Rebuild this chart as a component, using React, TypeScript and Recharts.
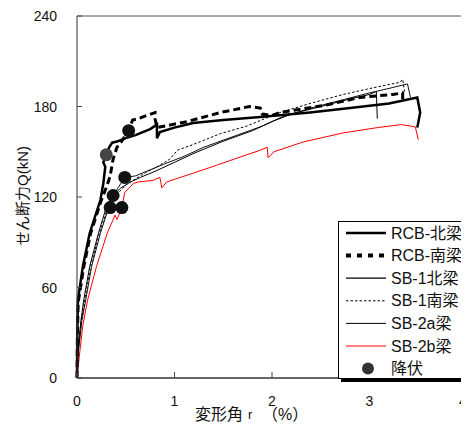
import { ComposedChart, Line, Scatter, XAxis, YAxis, Cell } from "recharts";

// 変形角 r (%) vs せん断力 Q (kN)
const RCB_N = [
  [0, 0], [0.003, 30], [0.01, 52], [0.06, 74], [0.13, 96], [0.24, 118], [0.27, 129], [0.29, 140],
  [0.27, 143], [0.3, 148], [0.33, 153], [0.36, 156], [0.42, 157], [0.5, 159], [0.6, 161], [0.75, 165],
  [0.82, 168], [0.82, 159], [0.85, 163], [1.0, 166], [1.19, 169], [1.5, 171], [1.88, 173], [2.39, 176],
  [2.8, 179], [3.2, 182], [3.49, 186], [3.52, 176], [3.49, 166],
];
const RCB_S = [
  [0, 0], [0.004, 28], [0.012, 50], [0.07, 74], [0.14, 96], [0.25, 118], [0.31, 128], [0.34, 134],
  [0.37, 145], [0.41, 153], [0.47, 158], [0.53, 164], [0.57, 171], [0.63, 172], [0.67, 173], [0.8, 176],
  [0.8, 172], [0.82, 166], [1.13, 170], [1.47, 176], [1.77, 180], [1.88, 179], [1.9, 175], [2.0, 174],
  [2.08, 176], [2.56, 181], [2.9, 186], [3.24, 188], [3.34, 189], [3.34, 184],
];
const SB1_N = [
  [0, 0], [0.01, 18], [0.04, 38], [0.07, 52], [0.13, 74], [0.22, 96], [0.29, 111], [0.33, 117],
  [0.37, 121], [0.45, 126], [0.55, 130], [0.65, 133], [0.8, 137], [1.0, 143], [1.2, 149], [1.5, 157],
  [1.8, 164], [2.0, 170], [2.2, 175], [2.5, 180], [2.8, 185], [3.0, 188], [3.07, 190], [3.08, 172],
];
const SB1_S = [
  [0, 0], [0.01, 16], [0.04, 36], [0.08, 52], [0.14, 74], [0.23, 96], [0.3, 110], [0.34, 113],
  [0.4, 121], [0.5, 128], [0.6, 132], [0.7, 136], [0.82, 140], [0.95, 145], [1.03, 151], [1.2, 155],
  [1.47, 162], [1.74, 167], [2.08, 176], [2.39, 182], [2.73, 188], [3.08, 193], [3.31, 196], [3.34, 198],
  [3.36, 190],
];
const SB2A = [
  [0, 0], [0.01, 15], [0.05, 38], [0.09, 52], [0.15, 74], [0.24, 96], [0.3, 108], [0.35, 118],
  [0.42, 126], [0.49, 133], [0.6, 134], [0.75, 138], [0.9, 142], [1.1, 147], [1.3, 153], [1.6, 160],
  [1.9, 167], [2.1, 173], [2.4, 179], [2.7, 184], [3.0, 189], [3.2, 192], [3.39, 195], [3.42, 186],
];
const SB2B = [
  [0, 0], [0.03, 18], [0.06, 35], [0.11, 52], [0.2, 74], [0.31, 96], [0.39, 108], [0.41, 105],
  [0.46, 113], [0.49, 123], [0.58, 129], [0.63, 130], [0.78, 131], [0.85, 133], [0.87, 126], [0.92, 130],
  [1.2, 136], [1.43, 141], [1.74, 148], [1.88, 151], [1.95, 153], [1.96, 146], [2.02, 150], [2.32, 156.5],
  [2.73, 162.5], [3.08, 166], [3.33, 168], [3.47, 166.5], [3.5, 158],
];
// 降伏 points
const YIELD = [
  [0.3, 148], [0.53, 164], [0.49, 133], [0.37, 121], [0.34, 113], [0.46, 113],
];

const X_TICKS = [0, 1, 2, 3, 4];
const Y_TICKS = [0, 60, 120, 180, 240];

const pts = (arr: number[][]) => arr.map(([x, y]) => ({ x, y }));

const FONT = "'Liberation Sans', 'Noto Sans CJK JP', sans-serif";

const XTick = ({ x, y, payload, index }: any) => {
  // last label sits at the right edge of the page, nudge it in so it stays readable
  const tx = index === X_TICKS.length - 1 ? x - 4 : x;
  return (
    <g>
      <line x1={x} x2={x} y1={y} y2={y - 6} stroke="#444" />
      <text x={tx} y={y + 23} textAnchor="middle" dominantBaseline="central" fontSize={14} fill="#111" fontFamily={FONT}>
        {payload.value}
      </text>
    </g>
  );
};

const YTick = ({ x, y, payload }: any) => (
  <g>
    <line x1={x} x2={x + 5} y1={y} y2={y} stroke="#444" />
    <text x={x - 20} y={y} textAnchor="end" dominantBaseline="central" fontSize={14} fill="#111" fontFamily={FONT}>
      {payload.value}
    </text>
  </g>
);

const legendItems = [
  { label: "RCB-北梁", stroke: "#000", width: 2.5, dash: undefined },
  { label: "RCB-南梁", stroke: "#000", width: 4, dash: "5 6" },
  { label: "SB-1北梁", stroke: "#000", width: 1.2, dash: undefined },
  { label: "SB-1南梁", stroke: "#000", width: 1, dash: "2.5 2" },
  { label: "SB-2a梁", stroke: "#000", width: 1, dash: undefined },
  { label: "SB-2b梁", stroke: "#ff0000", width: 1, dash: undefined },
];

export default function App() {
  return (
    <div
      style={{
        width: 469,
        height: 425,
        position: "relative",
        overflow: "hidden",
        margin: "-8px 0 0 -8px",
        background: "#fff",
        fontFamily: FONT,
      }}
    >
      <ComposedChart width={469} height={425} margin={{ top: 15, right: 0, left: 17, bottom: 7 }}>
        <XAxis
          type="number"
          dataKey="x"
          domain={[0, 4]}
          ticks={X_TICKS}
          interval={0}
          height={40}
          tickSize={0}
          tickMargin={0}
          tick={<XTick />}
          axisLine={{ stroke: "#333", strokeWidth: 1.5 }}
          tickLine={false}
        />
        <XAxis xAxisId="top" orientation="top" type="number" domain={[0, 4]} height={1} tick={false} tickLine={false} axisLine={{ stroke: "#555" }} />
        <YAxis
          type="number"
          domain={[0, 240]}
          ticks={Y_TICKS}
          interval={0}
          width={60}
          tickSize={0}
          tickMargin={0}
          tick={<YTick />}
          axisLine={{ stroke: "#333" }}
          tickLine={false}
        />
        <YAxis yAxisId="right" orientation="right" type="number" domain={[0, 240]} width={2} tick={false} tickLine={false} axisLine={{ stroke: "#555" }} />

        <Line data={pts(SB2B)} dataKey="y" stroke="#ff0000" strokeWidth={1} dot={false} activeDot={false} isAnimationActive={false} />
        <Line data={pts(SB2A)} dataKey="y" stroke="#111" strokeWidth={1} dot={false} activeDot={false} isAnimationActive={false} />
        <Line data={pts(SB1_S)} dataKey="y" stroke="#000" strokeWidth={1} strokeDasharray="2.5 2" dot={false} activeDot={false} isAnimationActive={false} />
        <Line data={pts(SB1_N)} dataKey="y" stroke="#000" strokeWidth={1} dot={false} activeDot={false} isAnimationActive={false} />
        <Line data={pts(RCB_S)} dataKey="y" stroke="#000" strokeWidth={3} strokeDasharray="7 4" dot={false} activeDot={false} isAnimationActive={false} />
        <Line data={pts(RCB_N)} dataKey="y" stroke="#000" strokeWidth={2.5} dot={false} activeDot={false} isAnimationActive={false} />
        <Scatter
          data={pts(YIELD)}
          dataKey="y"
          isAnimationActive={false}
          shape={(p: any) => <circle cx={p.cx} cy={p.cy} r={6.5} fill={p.fill} />}
        >
          {YIELD.map((_, i) => (
            <Cell key={i} fill={i === 0 ? "#444" : "#111"} />
          ))}
        </Scatter>

        <text x={22} y={196} transform="rotate(-90 22 196)" textAnchor="middle" dominantBaseline="central" fontSize={15} fill="#111" fontFamily={FONT}>
          せん断力Q(kN)
        </text>
        <text y={414} dominantBaseline="central" fontSize={16} fill="#111" fontFamily={FONT}>
          <tspan x={195}>変形角</tspan>
          <tspan x={248} fontSize={13}>r</tspan>
          <tspan x={262}>（%）</tspan>
        </text>
      </ComposedChart>

      <div
        style={{
          position: "absolute",
          left: 338,
          top: 221,
          width: 140,
          height: 158,
          border: "1px solid #000",
          boxShadow: "3px 3px 0 #000",
          background: "#fff",
          boxSizing: "border-box",
        }}
      >
        <svg width={140} height={156} style={{ display: "block" }}>
          {legendItems.map((it, i) => {
            const cy = 11 + i * 22.6;
            return (
              <g key={it.label}>
                <line x1={7} x2={47} y1={cy} y2={cy} stroke={it.stroke} strokeWidth={it.width} strokeDasharray={it.dash} />
                <text x={52} y={cy} dominantBaseline="central" fontSize={16} fill="#111" fontFamily={FONT}>
                  {it.label}
                </text>
              </g>
            );
          })}
          <circle cx={29} cy={146.6} r={6} fill="#333" />
          <text x={52} y={146.6} dominantBaseline="central" fontSize={16} fill="#111" fontFamily={FONT}>
            降伏
          </text>
        </svg>
      </div>
    </div>
  );
}
